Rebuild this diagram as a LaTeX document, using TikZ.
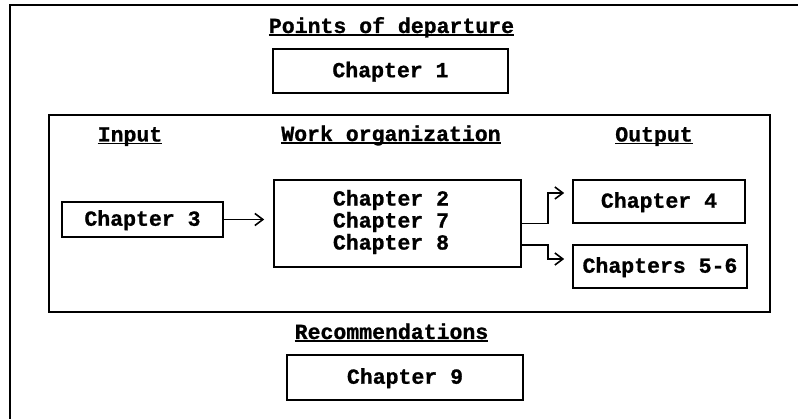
\documentclass[tikz,border=0pt]{standalone}
\usepackage{fontspec}
\setmainfont{Liberation Mono}[BoldFeatures={FakeBold=1}]
\usetikzlibrary{arrows.meta,calc}
\newcommand\myul[1]{\setbox0\hbox{#1}\rlap{\rule[-3pt]{\wd0}{1.8pt}}\box0}
\begin{document}
\begin{tikzpicture}[x=1pt,y=-1pt,
  txt/.style={font=\fontsize{21.5}{22}\selectfont\bfseries},
  box/.style={txt, draw, line width=1.6pt, inner sep=0pt, text height=12.5pt, text depth=0pt},
  head/.style={txt, inner sep=0pt, anchor=base},
  conn/.style={line width=1.6pt, -{Straight Barb[length=8pt,width=12pt,line width=1.6pt]}}]
\useasboundingbox (0,0) rectangle (798,419);
% outer frame (top and left only)
\draw[line width=2.2pt] (10,419) -- (10,5) -- (798,5);
% inner frame
\draw[line width=1.8pt] (49,115) rectangle (770,312);
% headings
\node[head] (hpd) at (391.5,33) {\myul{Points of departure}};
\node[head] (hin) at (130,141.5) {\myul{Input}};
\node[head] (hwo) at (391,141) {\myul{Work organization}};
\node[head] (hout) at (654,141.5) {\myul{Output}};
\node[head] (hrec) at (391.5,339) {\myul{Recommendations}};
% boxes
\node[box, minimum width=235pt, minimum height=44pt] (c1) at (390.5,71) {Chapter 1};
\node[box, minimum width=161pt, minimum height=35pt] (c3) at (142.5,219.5) {Chapter 3};
\node[draw, line width=1.6pt, minimum width=247pt, minimum height=87pt, inner sep=0pt] (mid) at (397.5,223.5) {};
\node[txt, align=center, inner sep=0pt] (midt) at (391,222) {Chapter 2\\Chapter 7\\Chapter 8};
\node[box, minimum width=172pt, minimum height=43pt] (c4) at (659,201.5) {Chapter 4};
\node[box, minimum width=174pt, minimum height=43pt] (c56) at (660,266.5) {Chapters 5-6};
\node[box, minimum width=236pt, minimum height=45pt] (c9) at (405,377.5) {Chapter 9};
% connectors
\draw[conn] (c3.east) -- ($(mid.west |- c3.east)+(-9,0)$);
\draw[conn] (mid.east) -- ++(26,0) |- ($(c4.west)+(-8,-8.5)$);
\draw[conn] ($(mid.east)+(0,21.5)$) -- ++(26,0) |- ($(c56.west)+(-8,-7.5)$);
\end{tikzpicture}
\end{document}
